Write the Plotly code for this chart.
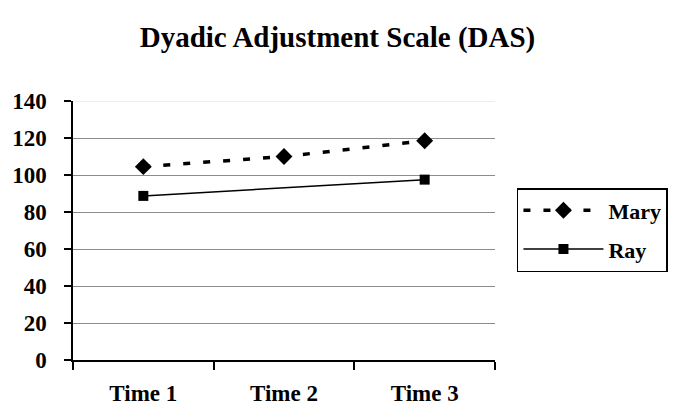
import plotly.graph_objects as go

times = ["Time 1", "Time 2", "Time 3"]
mary = [104.5, 110, 118.5]
ray = [88.7, None, 97.5]
y_ticks = [0, 20, 40, 60, 80, 100, 120, 140]

font = "Liberation Serif, Times New Roman, serif"

fig = go.Figure()
fig.add_trace(go.Scatter(
    x=times, y=mary, name="<b>Mary</b>", mode="lines+markers", legendgroup="a",
    line=dict(color="black", width=3.5, dash="7px,13px"),
    marker=dict(symbol="diamond", size=13, color="black"),
))
fig.add_trace(go.Scatter(
    x=times, y=ray, name="<b>Ray</b>", mode="lines+markers", connectgaps=True,
    legendgroup="b",
    line=dict(color="black", width=1.5),
    marker=dict(symbol="square", size=10, color="black"),
))

fig.update_layout(
    width=675, height=418,
    margin=dict(l=73, r=180, t=101, b=58, autoexpand=False),
    paper_bgcolor="white", plot_bgcolor="white",
    title=dict(text="<b>Dyadic Adjustment Scale (DAS)</b>", x=0.5, xanchor="center",
               y=0.912, yanchor="middle", font=dict(family=font, size=29, color="black")),
    font=dict(family=font, size=20, color="black"),
    showlegend=True,
    legend=dict(x=1.052, y=0.664, xanchor="left", yanchor="top",
                bordercolor="black", borderwidth=1.5, bgcolor="white",
                font=dict(family=font, size=22, color="black"),
                tracegroupgap=7, itemwidth=80),
    xaxis=dict(type="category", range=[-0.5, 2.5], showgrid=False,
               showline=True, linecolor="black", linewidth=1.5,
               ticks="outside", tickson="boundaries", ticklen=8, tickcolor="black",
               tickwidth=1.5, ticklabelstandoff=12,
               tickfont=dict(family=font, size=23, color="black"),
               tickvals=times, ticktext=["<b>%s</b>" % t for t in times]),
    yaxis=dict(range=[0, 140], tickvals=y_ticks,
               ticktext=["<b>%d</b>" % v for v in y_ticks],
               showgrid=True, gridcolor="#8c8c8c", gridwidth=1.3,
               showline=True, linecolor="black", linewidth=1.5,
               ticks="outside", ticklen=7, tickcolor="black", tickwidth=1.5,
               ticklabelstandoff=13, zeroline=False,
               tickfont=dict(family=font, size=23, color="black")),
    shapes=[dict(type="line", xref="paper", yref="y", x0=0.003, x1=1, y0=140, y1=140,
                 line=dict(color="#e6e6e6", width=1.5))],
)

fig.write_html("out.html")
